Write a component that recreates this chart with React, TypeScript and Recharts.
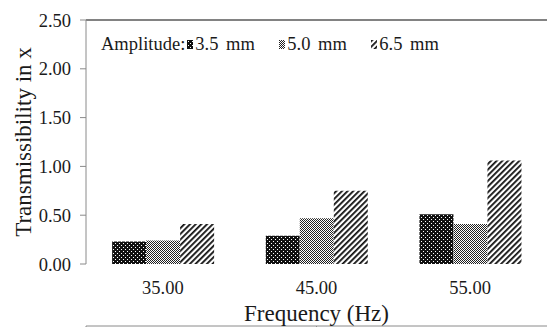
import React from 'react';
import { BarChart, Bar, XAxis, YAxis, Legend, ReferenceLine } from 'recharts';

const categories = ['35.00', '45.00', '55.00'];
const amp35 = [0.23, 0.29, 0.51];
const amp50 = [0.24, 0.47, 0.41];
const amp65 = [0.41, 0.75, 1.06];
const yTicks = [0, 0.5, 1, 1.5, 2, 2.5];
const boundaryTicks = [0, 1, 2, 3];
const seriesNames = ['3.5 mm', '5.0 mm', '6.5 mm'];

const data = categories.map((c, i) => ({ freq: c, a35: amp35[i], a50: amp50[i], a65: amp65[i] }));

const FONT = "'Liberation Serif', 'Times New Roman', Tinos, 'DejaVu Serif', serif";
const TXT = '#1a1a1a';
const AXIS = '#8a8a8a';

const renderLegend = (props: any) => {
  const payload = props.payload || [];
  return (
    <div
      style={{
        display: 'flex',
        alignItems: 'center',
        fontFamily: FONT,
        fontSize: 18.5,
        color: TXT,
        lineHeight: '20px',
        whiteSpace: 'nowrap',
      }}
    >
      <span>Amplitude:</span>
      {payload.map((e: any, i: number) => (
        <span key={i} style={{ display: 'flex', alignItems: 'center', marginLeft: i === 0 ? 1.5 : 24 }}>
          <svg width={6} height={9} style={{ display: 'block' }}>
            <rect width={6} height={9} fill={e.color} />
          </svg>
          <span style={{ marginLeft: 2.5, wordSpacing: 3 }}>{e.value}</span>
        </span>
      ))}
    </div>
  );
};

export default function App() {
  return (
    <div style={{ position: 'absolute', left: 0, top: 0, width: 547, height: 327, overflow: 'hidden', background: '#fff', fontFamily: FONT }}>
      <svg width={0} height={0} style={{ position: 'absolute' }}>
        <defs>
          <pattern id="p35" width={4} height={4} patternUnits="userSpaceOnUse">
            <rect width={4} height={4} fill="#111" />
            <rect x={1} y={1} width={1} height={1} fill="#fff" />
            <rect x={3} y={3} width={1} height={1} fill="#fff" />
          </pattern>
          <pattern id="p50" width={2} height={2} patternUnits="userSpaceOnUse">
            <rect width={2} height={2} fill="#fff" />
            <rect width={1} height={1} fill="#222" />
            <rect x={1} y={1} width={1} height={1} fill="#222" />
          </pattern>
          <pattern id="p65" width={4} height={4} patternUnits="userSpaceOnUse" patternTransform="rotate(45)">
            <rect width={4} height={4} fill="#fff" />
            <rect width={1.8} height={4} fill="#111" />
          </pattern>
        </defs>
      </svg>
      <BarChart
        width={547}
        height={327}
        data={data}
        margin={{ top: 20, right: 0, bottom: 0, left: 0 }}
        barCategoryGap="17%"
        barGap={0}
        style={{ fontFamily: FONT }}
      >
        <XAxis
          xAxisId="b"
          type="number"
          domain={[0, 3]}
          ticks={boundaryTicks}
          allowDataOverflow
          height={1}
          axisLine={{ stroke: AXIS }}
          tickLine={{ stroke: AXIS }}
          tickSize={7}
          tickFormatter={() => ''}
        />
        <XAxis
          dataKey="freq"
          height={62}
          axisLine={false}
          tickLine={false}
          tickSize={6}
          tickMargin={11}
          tick={{ fill: TXT, fontSize: 18.5, fontFamily: FONT }}
          label={{ value: 'Frequency (Hz)', position: 'insideBottom', offset: 5, fill: TXT, fontSize: 23, fontFamily: FONT }}
        />
        <YAxis
          width={86}
          type="number"
          domain={[0, 2.5]}
          ticks={yTicks}
          interval={0}
          tickFormatter={(v: number) => v.toFixed(2)}
          axisLine={{ stroke: AXIS }}
          tickLine={{ stroke: AXIS }}
          tickSize={6}
          tickMargin={9}
          tick={{ fill: TXT, fontSize: 18.5, fontFamily: FONT }}
          label={{ value: 'Transmissibility in x', angle: -90, position: 'center', dx: -20, fill: TXT, fontSize: 23, fontFamily: FONT }}
        />
        <ReferenceLine y={2.5} stroke="#595959" strokeWidth={1.5} />
        <Legend
          content={renderLegend}
          layout="vertical"
          align="center"
          verticalAlign="middle"
          wrapperStyle={{ left: 101, top: 34, width: 'auto' }}
        />
        <Bar dataKey="a35" name={seriesNames[0]} fill="url(#p35)" isAnimationActive={false} />
        <Bar dataKey="a50" name={seriesNames[1]} fill="url(#p50)" isAnimationActive={false} />
        <Bar dataKey="a65" name={seriesNames[2]} fill="url(#p65)" isAnimationActive={false} />
      </BarChart>
    </div>
  );
}
